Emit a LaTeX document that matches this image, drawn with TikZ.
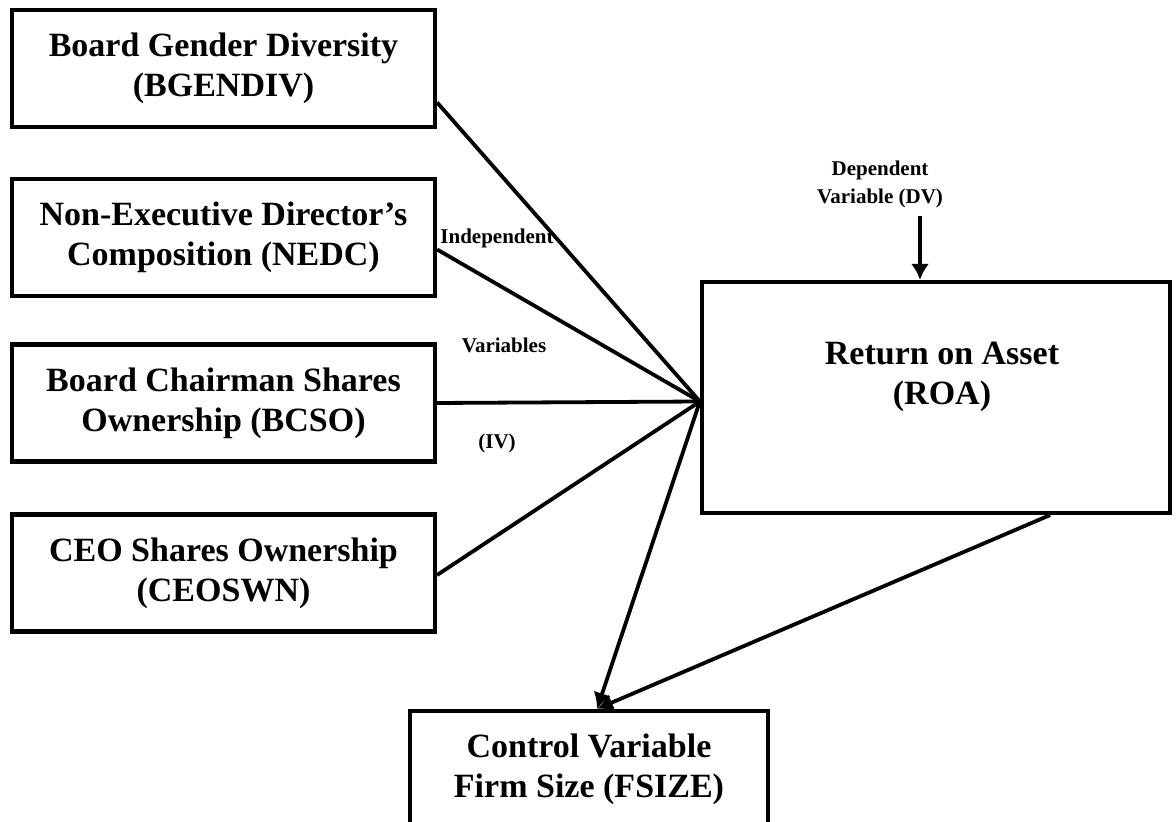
\documentclass[tikz,border=0pt]{standalone}
\usepackage{fontspec}
\setmainfont{Liberation Serif}
\usetikzlibrary{arrows.meta}

\begin{document}
\begin{tikzpicture}[x=0.5pt,y=-0.5pt,
    varbox/.style={draw, line width=2.1pt, minimum width=211.5pt, minimum height=58.5pt, inner sep=0pt, align=center, font=\fontsize{17}{20}\selectfont\bfseries},
    tag/.style={align=center, font=\fontsize{10.5}{14}\selectfont\bfseries},
    link/.style={line width=1.9pt},
    arr/.style={line width=1.9pt, -{Latex[length=8pt,width=9pt]}}]
	\clip (0,0) rectangle (1176,822);
	\node[varbox] (bgendiv) at (223.5,68.5) {Board Gender Diversity\\(BGENDIV)};
	\node[varbox] (nedc) at (223.5,237.5) {Non-Executive Director’s\\Composition (NEDC)};
	\node[varbox] (bcso) at (223.5,403) {Board Chairman Shares\\Ownership (BCSO)};
	\node[varbox] (ceoswn) at (223.5,573) {CEO Shares Ownership\\(CEOSWN)};
	\node[varbox, minimum width=234pt, minimum height=115.5pt] (roa) at (936,397.5) {};
	\node[varbox, draw=none] (roatext) at (942,377) {Return on Asset\\(ROA)};
	\node[varbox, minimum width=179pt] (fsize) at (589,769.5) {Control Variable\\Firm Size (FSIZE)};
	\node[tag] (dvlabel) at (880,184) {Dependent\\Variable (DV)};
	\node[tag] (ivtop) at (497,238) {Independent};
	\node[tag] (ivmid) at (504,345) {Variables};
	\node[tag] (ivbot) at (497,443) {(IV)};
	\coordinate (hub) at ([yshift=-2pt]roa.west);
	\coordinate (dvtop) at (920,216);
	\draw[link] ([yshift=-17pt]bgendiv.east) -- (hub);
	\draw[link] ([yshift=-6pt]nedc.east) -- (hub);
	\draw[link] (bcso.east) -- (hub);
	\draw[link] ([yshift=-1pt]ceoswn.east) -- (hub);
	\draw[arr] (hub) -- ([xshift=4pt]fsize.north);
	\draw[arr] ([xshift=57pt]roa.south) -- ([xshift=4pt]fsize.north);
	\draw[arr] (dvtop) -- (dvtop |- roa.north);
\end{tikzpicture}
\end{document}
